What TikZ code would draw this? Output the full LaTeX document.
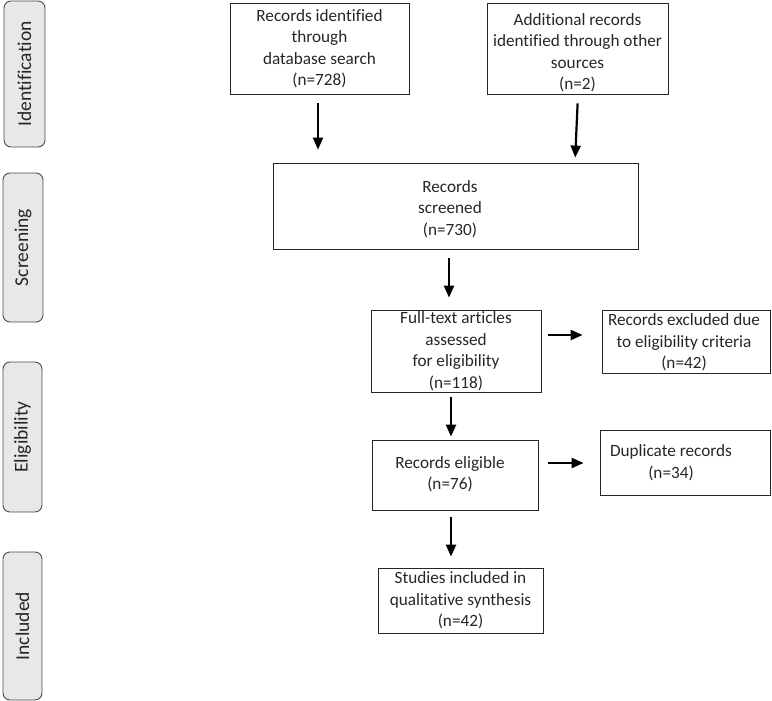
\documentclass[tikz,border=0pt]{standalone}
\usepackage{fontspec}
\setmainfont{Carlito}[Ligatures={NoCommon}]
\usetikzlibrary{arrows.meta,calc}
\begin{document}
\begin{tikzpicture}[x=1pt,y=1pt,
  box/.style={draw=black!85, line width=0.8pt, rectangle, align=center, inner sep=0pt,
    font=\fontsize{17.2}{21.5}\selectfont, text=black!85},
  txt/.style={align=center, inner sep=0pt, font=\fontsize{17.2}{21.5}\selectfont, text=black!85},
  phase/.style={draw=black!70, fill=black!9, rounded corners=7pt, line width=0.9pt,
    rotate=90, inner sep=0pt, font=\fontsize{19.5}{22}\selectfont, text=black!85},
  arr/.style={line width=2.2pt, -{Triangle[length=12pt,width=10pt]}}
]
\useasboundingbox (0,0) rectangle (772,-701);

% phase labels
\node[phase, minimum width=146, minimum height=41] (pid) at (24.5,-74) {Identification};
\node[phase, minimum width=149, minimum height=40] (psc) at (23,-247.5) {Screening};
\node[phase, minimum width=150, minimum height=39] (pel) at (22.5,-437) {Eligibility};
\node[phase, minimum width=148, minimum height=39] (pin) at (22.5,-626) {Included};

% boxes
\node[box, minimum width=179, minimum height=91] (A) at (319.5,-48.5)
  {Records identified\\through\\database search\\(n=728)};
\node[box, minimum width=181, minimum height=91] (B) at (577.5,-48.5) {};
\node[txt] (Bt) at (577.5,-52.5) {Additional records\\identified through other\\sources\\(n=2)};
\node[box, minimum width=365, minimum height=86] (S) at (455.5,-206) {};
\node[txt] (St) at (450,-209) {Records\\screened\\(n=730)};
\node[box, minimum width=170, minimum height=82] (F) at (456,-351)
  {Full-text articles\\assessed\\for eligibility\\(n=118)};
\node[box, minimum width=168, minimum height=63] (X) at (686,-341.5) {};
\node[txt] (Xt) at (684,-342.5) {Records excluded due\\to eligibility\ criteria\\(n=42)};
\node[box, minimum width=166, minimum height=70] (E) at (455,-475) {};
\node[txt] (Et) at (450,-474) {Records eligible\\(n=76)};
\node[box, minimum width=170, minimum height=65] (D) at (685,-462.5) {};
\node[txt] (Dt) at (671,-462.5) {Duplicate records\\(n=34)};
\node[box, minimum width=165, minimum height=65] (I) at (460.5,-600.5)
  {Studies included in\\qualitative synthesis\\(n=42)};

% arrows
\draw[arr, shorten <=9pt, shorten >=13pt] ([xshift=-1.5pt]A.south) -- ([xshift=-1.5pt]A.south |- S.north);
\draw[arr, shorten <=9pt, shorten >=5pt] ([xshift=0.5pt]B.south) -- ([xshift=-2.5pt]B.south |- S.north);
\draw[arr, shorten <=9pt, shorten >=12pt] ([xshift=-6.5pt]S.south) -- ([xshift=-6.5pt]S.south |- F.north);
\draw[arr, shorten <=7pt, shorten >=19pt] ([yshift=16pt]F.east) -- ([yshift=16pt]F.east -| X.west);
\draw[arr, shorten <=5pt, shorten >=3pt] ([xshift=-5pt]F.south) -- ([xshift=-5pt]F.south |- E.north);
\draw[arr, shorten <=10pt, shorten >=16pt] ([yshift=12pt]E.east) -- ([yshift=12pt]E.east -| D.west);
\draw[arr, shorten <=7pt, shorten >=11pt] ([xshift=-4pt]E.south) -- ([xshift=-4pt]E.south |- I.north);
\end{tikzpicture}
\end{document}
